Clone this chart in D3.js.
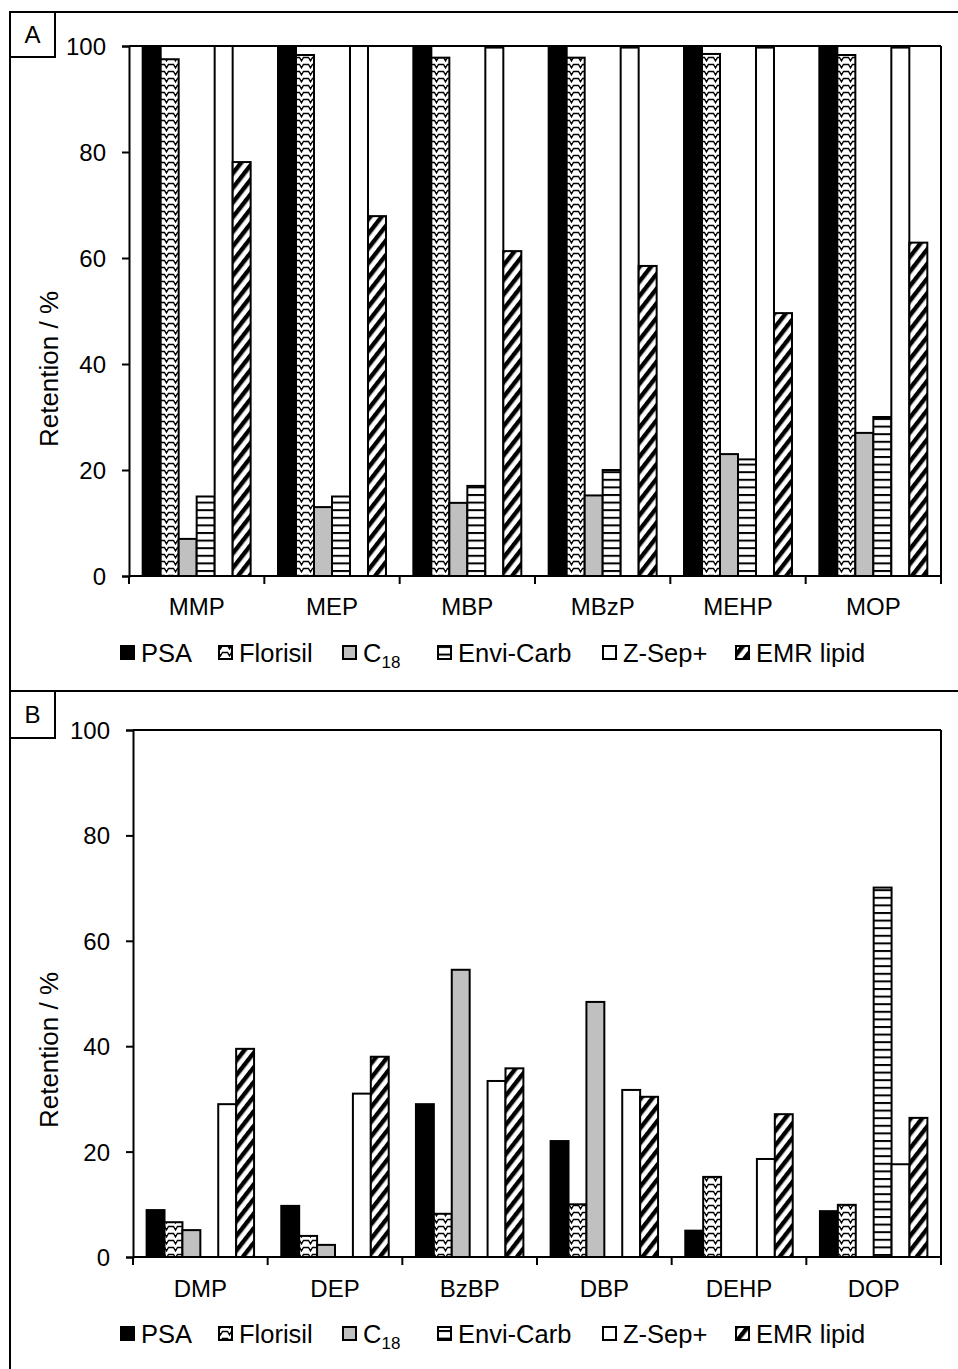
<!DOCTYPE html>
<html>
<head>
<meta charset="utf-8">
<script src="https://cdn.jsdelivr.net/npm/d3@7"></script>
<style>
  html, body { margin: 0; padding: 0; background: #fff; }
  svg { display: block; font-family: "Liberation Sans", Arial, sans-serif; }
</style>
</head>
<body>
<svg id="fig" width="958" height="1369"></svg>
<script>
// Sorbents (series) and analytes (categories)
const sorbents = ["PSA", "Florisil", "C18", "Envi-Carb", "Z-Sep+", "EMR lipid"];
const monoesters = ["MMP", "MEP", "MBP", "MBzP", "MEHP", "MOP"];
const diesters = ["DMP", "DEP", "BzBP", "DBP", "DEHP", "DOP"];
const yTicks = [0, 20, 40, 60, 80, 100];

// Panel A: retention (%) of monoesters per sorbent
const psaA      = [100, 100, 100, 100, 100, 100];
const florisilA = [97.5, 98.3, 97.8, 97.8, 98.5, 98.3];
const c18A      = [7, 13, 13.8, 15.2, 23, 27];
const enviA     = [15, 15, 17, 20, 22, 30];
const zsepA     = [100, 100, 99.7, 99.7, 99.7, 99.7];
const emrA      = [78.1, 67.9, 61.3, 58.5, 49.6, 62.9];

// Panel B: retention (%) of diesters per sorbent
const psaB      = [8.9, 9.7, 29.0, 22.0, 5.0, 8.7];
const florisilB = [6.6, 4.0, 8.2, 10.0, 15.2, 9.9];
const c18B      = [5.1, 2.3, 54.5, 48.4, 0, 0];
const enviB     = [0, 0, 0, 0, 0, 70.1];
const zsepB     = [29.0, 31.0, 33.4, 31.7, 18.6, 17.6];
const emrB      = [39.5, 38.0, 35.8, 30.4, 27.1, 26.4];

const svg = d3.select("#fig");
const FS = 24;

// ---- fill patterns ----
const defs = svg.append("defs");

const wave = defs.append("pattern").attr("id", "pat-florisil")
  .attr("patternUnits", "userSpaceOnUse").attr("width", 9).attr("height", 7);
wave.append("rect").attr("width", 9).attr("height", 7).attr("fill", "#fff");
wave.append("path").attr("d", "M0,1.5 L2.5,1.5 L4.5,4.8 L6.5,1.5 L9,1.5")
  .attr("fill", "none").attr("stroke", "#000").attr("stroke-width", 1.4);

const hlines = defs.append("pattern").attr("id", "pat-envi")
  .attr("patternUnits", "userSpaceOnUse").attr("width", 8).attr("height", 7.6);
hlines.append("rect").attr("width", 8).attr("height", 7.6).attr("fill", "#fff");
hlines.append("rect").attr("y", 0).attr("width", 8).attr("height", 2).attr("fill", "#000");

const diag = defs.append("pattern").attr("id", "pat-emr")
  .attr("patternUnits", "userSpaceOnUse").attr("width", 9).attr("height", 9)
  .attr("patternTransform", "rotate(38)");
diag.append("rect").attr("width", 9).attr("height", 9).attr("fill", "#fff");
diag.append("rect").attr("x", 0).attr("width", 4.4).attr("height", 9).attr("fill", "#000");

const fills = {
  "PSA": "#000",
  "Florisil": "url(#pat-florisil)",
  "C18": "#c0c0c0",
  "Envi-Carb": "url(#pat-envi)",
  "Z-Sep+": "#fff",
  "EMR lipid": "url(#pat-emr)"
};

// ---- outer frame ----
const frame = svg.append("g").attr("stroke", "#000").attr("stroke-width", 2).attr("fill", "none");
frame.append("line").attr("x1", 10).attr("x2", 10).attr("y1", 12).attr("y2", 1369);
frame.append("line").attr("x1", 10).attr("x2", 958).attr("y1", 12).attr("y2", 12);
frame.append("line").attr("x1", 10).attr("x2", 958).attr("y1", 691).attr("y2", 691);

function panelLabel(txt, y, h) {
  svg.append("rect").attr("x", 10).attr("y", y).attr("width", 45).attr("height", h)
    .attr("fill", "#fff").attr("stroke", "#000").attr("stroke-width", 2);
  svg.append("text").attr("x", 32.5).attr("y", y + h / 2 + 8.5)
    .attr("text-anchor", "middle").attr("font-size", FS).text(txt);
}

function drawPanel(cfg) {
  const { cats, series, x0, x1, yTop, yBot, catY, legendY, titleX, titleY } = cfg;
  const g = svg.append("g");

  const x = d3.scaleBand().domain(cats).range([x0, x1]).paddingInner(0).paddingOuter(0);
  const xs = d3.scaleBand().domain(sorbents).range([0, x.bandwidth()])
    .paddingInner(0).paddingOuter(0.76);
  const y = d3.scaleLinear().domain([0, 100]).range([yBot, yTop]);

  // plot area border (top and right)
  g.append("line").attr("x1", x0).attr("x2", x1).attr("y1", yTop).attr("y2", yTop)
    .attr("stroke", "#000").attr("stroke-width", 2);
  g.append("line").attr("x1", x1).attr("x2", x1).attr("y1", yTop).attr("y2", yBot)
    .attr("stroke", "#000").attr("stroke-width", 2);

  // bars
  const rows = [];
  cats.forEach((c, i) => sorbents.forEach((s, j) => {
    const v = series[j][i];
    if (v > 0) rows.push({ c, s, v });
  }));
  g.append("g").selectAll("rect").data(rows).join("rect")
    .attr("x", d => x(d.c) + xs(d.s))
    .attr("y", d => y(d.v))
    .attr("width", xs.bandwidth())
    .attr("height", d => y(0) - y(d.v))
    .attr("fill", d => fills[d.s])
    .attr("stroke", "#000").attr("stroke-width", 2);

  // y axis
  const ya = g.append("g").attr("transform", `translate(${x0},0)`)
    .call(d3.axisLeft(y).tickValues(yTicks).tickSize(7).tickPadding(16));
  ya.select(".domain").attr("stroke-width", 2);
  ya.selectAll(".tick line").attr("stroke-width", 2);
  ya.selectAll(".tick text").attr("font-size", FS).attr("font-family", "Liberation Sans, Arial, sans-serif")
    .attr("fill", "#000").attr("dy", "0.35em");

  // x axis: ticks at category boundaries
  g.append("line").attr("x1", x0).attr("x2", x1).attr("y1", yBot).attr("y2", yBot)
    .attr("stroke", "#000").attr("stroke-width", 2);
  const bounds = cats.map(c => x(c)).concat([x1]);
  g.append("g").selectAll("line").data(bounds).join("line")
    .attr("x1", d => d).attr("x2", d => d).attr("y1", yBot).attr("y2", yBot + 8)
    .attr("stroke", "#000").attr("stroke-width", 2);
  g.append("g").selectAll("text").data(cats).join("text")
    .attr("x", d => x(d) + x.bandwidth() / 2).attr("y", catY)
    .attr("text-anchor", "middle").attr("font-size", FS).text(d => d);

  // y title
  g.append("text").attr("transform", `translate(${titleX},${titleY}) rotate(-90)`)
    .attr("text-anchor", "middle").attr("font-size", 26).text("Retention / %");

  // legend
  const legX = [120, 218, 342, 437, 602, 735];
  const lg = g.append("g");
  sorbents.forEach((s, j) => {
    lg.append("rect").attr("x", legX[j] + 1).attr("y", legendY - 7).attr("width", 13).attr("height", 13)
      .attr("fill", fills[s]).attr("stroke", "#000").attr("stroke-width", 2);
    const t = lg.append("text").attr("x", legX[j] + 21).attr("y", legendY + 9).attr("font-size", 25.5);
    if (s === "C18") {
      t.append("tspan").text("C");
      t.append("tspan").attr("font-size", 17).attr("dy", 6).text("18");
    } else {
      t.text(s);
    }
  });
}

drawPanel({
  cats: monoesters,
  series: [psaA, florisilA, c18A, enviA, zsepA, emrA],
  x0: 129, x1: 941, yTop: 46, yBot: 576,
  catY: 615, legendY: 653, titleX: 58, titleY: 369
});

drawPanel({
  cats: diesters,
  series: [psaB, florisilB, c18B, enviB, zsepB, emrB],
  x0: 133, x1: 941, yTop: 730, yBot: 1257,
  catY: 1297, legendY: 1334, titleX: 58, titleY: 1050
});

panelLabel("A", 12, 45);
panelLabel("B", 691, 47);
</script>
</body>
</html>
